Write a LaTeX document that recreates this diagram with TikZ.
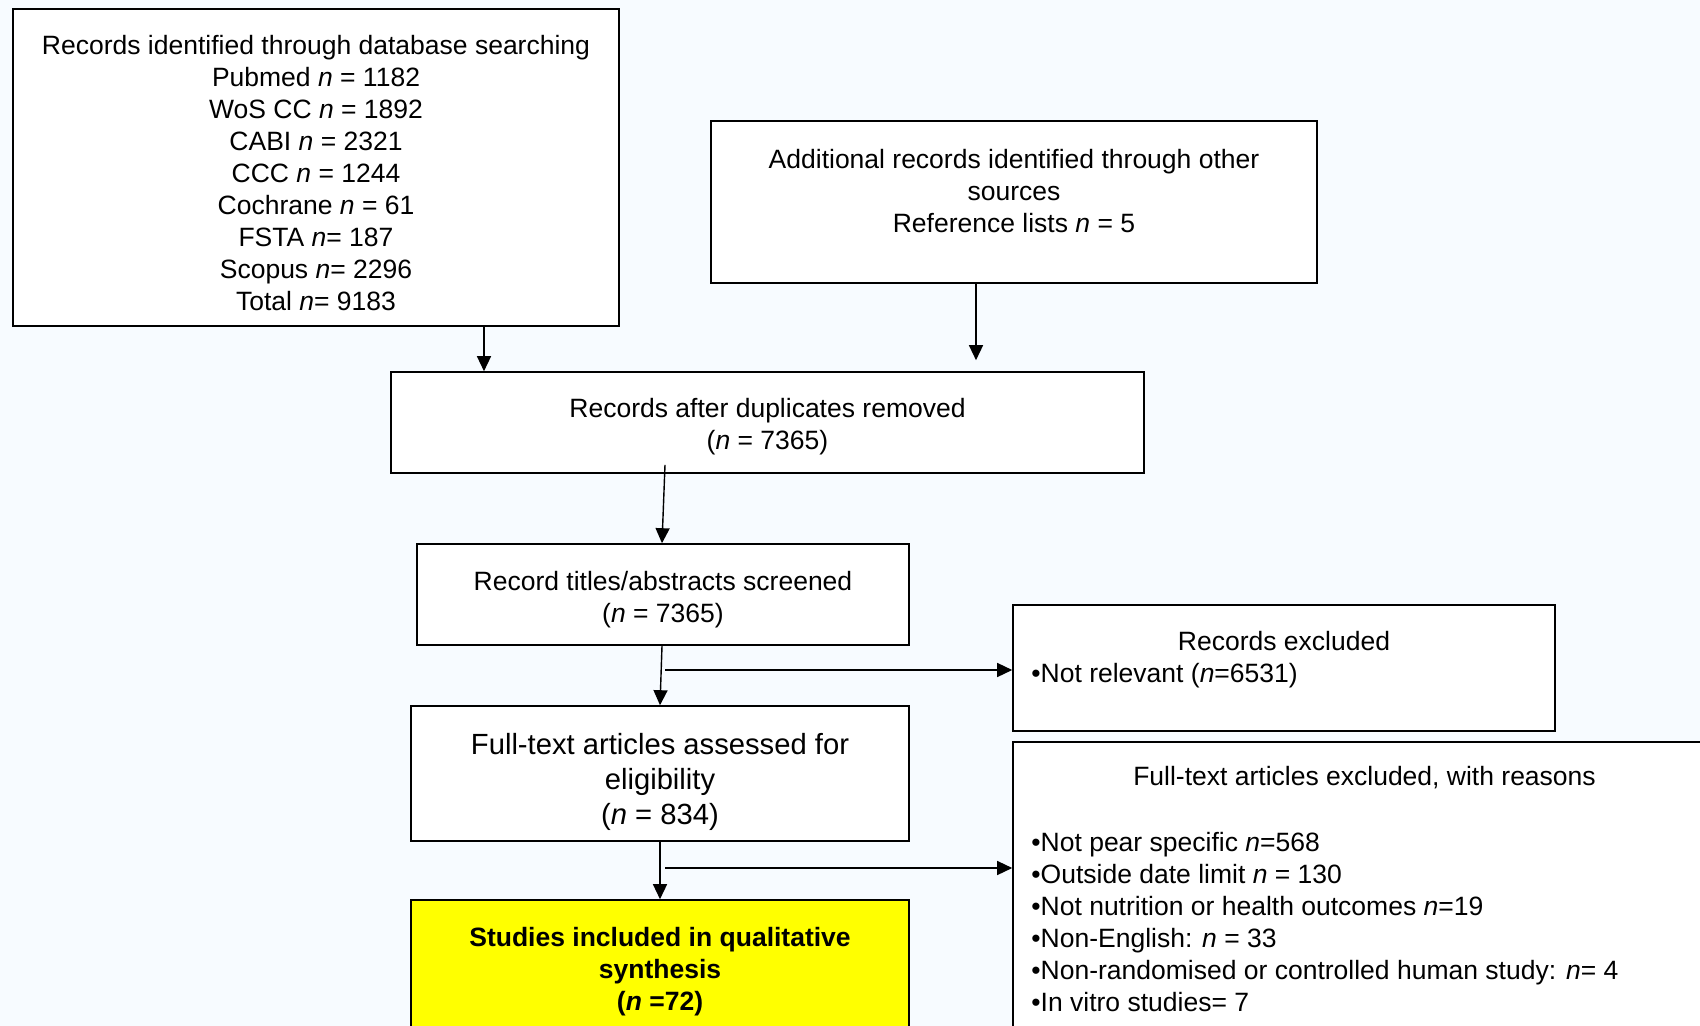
\documentclass[tikz,border=0pt]{standalone}
\usepackage{fontspec}
\setmainfont{Liberation Sans}
\usetikzlibrary{arrows.meta,calc}
\definecolor{bgc}{RGB}{247,251,255}
\definecolor{yel}{RGB}{255,255,0}
\tikzset{
  box/.style={draw=black, line width=0.8pt, fill=white, rectangle, inner sep=0pt},
  txt/.style={inner sep=0pt, align=center, font=\fontsize{13.25pt}{16pt}\selectfont},
  arr/.style={-{Triangle[length=7.5pt,width=7pt]}, line width=0.7pt, black}
}
\begin{document}
\begin{tikzpicture}[x=0.5pt,y=-0.5pt]
\useasboundingbox (0,0) rectangle (1700,1026);
\clip (0,0) rectangle (1700,1026);
\fill[bgc] (0,0) rectangle (1700,1026);

% boxes
\node[box, minimum width=303pt, minimum height=158.5pt] (b1) at (316,167.5) {};
\node[box, minimum width=303pt, minimum height=81pt] (b2) at (1014,202) {};
\node[box, minimum width=376.5pt, minimum height=50.5pt] (b3) at (767.5,422.5) {};
\node[box, minimum width=246pt, minimum height=50.5pt] (b4) at (663,594.5) {};
\node[box, minimum width=271pt, minimum height=63pt] (b5) at (1284,668) {};
\node[box, minimum width=249pt, minimum height=67.5pt] (b6) at (660,773.5) {};
\node[box, minimum width=351.5pt, minimum height=159pt] (b7) at (1364.5,901) {};
\node[box, fill=yel, minimum width=249pt, minimum height=80pt] (b8) at (660,980) {};

% texts
\node[txt] (t1) at (316,173) {Records identified through database searching\\
Pubmed \textit{n} = 1182\\
WoS CC \textit{n} = 1892\\
CABI \textit{n} = 2321\\
CCC \textit{n} = 1244\\
Cochrane \textit{n} = 61\\
FSTA \textit{n}= 187\\
Scopus \textit{n}= 2296\\
Total \textit{n}= 9183};
\node[txt] (t2) at (1014,191.3) {Additional records identified through other\\ sources\\ Reference lists \textit{n} = 5};
\node[txt] (t3) at (767.5,426.5) {Records after duplicates removed\\ (\textit{n} = 7365)};
\node[txt] (t4) at (663,599.5) {Record titles/abstracts screened\\ (\textit{n} = 7365)};
\node[txt] (t5a) at (1284,641) {Records excluded};
\node[txt, anchor=west] (t5b) at (1031,675.5) {•Not relevant (\textit{n}=6531)};
\node[txt, font=\fontsize{14.6pt}{17.5pt}\selectfont] (t6) at (660,781.5) {Full-text articles assessed for\\ eligibility\\ (\textit{n} = 834)};
\node[txt] (t7a) at (1364.5,778) {Full-text articles excluded, with reasons};
\node[txt, align=left, anchor=west] (t7b) at (1031,922.5) {•Not pear specific \textit{n}=568\\
•Outside date limit \textit{n} = 130\\
•Not nutrition or health outcomes \textit{n}=19\\
•Non-English: \textit{n} = 33\\
•Non-randomised or controlled human study: \textit{n}= 4\\
•In vitro studies= 7};
\node[txt, font=\fontsize{13.25pt}{16pt}\selectfont\bfseries] (t8) at (660,972) {Studies included in qualitative\\ synthesis\\ (\textit{n} =72)};

% connectors
\coordinate (s1) at ($(b1.south)+(168,0)$);
\draw[arr] (s1) -- (s1 |- b3.north);
\coordinate (s2) at ($(b2.south)+(-38,0)$);
\draw[arr, shorten >=5.5pt] (s2) -- (s2 |- b3.north);
\coordinate (s3) at ($(b3.south)+(-102.5,-9)$);
\draw[arr] (s3) -- ($(b4.north)+(-1,0)$);
\draw[arr] ($(b4.south)+(-1,0)$) -- (b6.north);
\coordinate (s5) at (665,670);
\draw[arr] (s5) -- (s5 -| b5.west);
\draw[arr] (b6.south) -- (b8.north);
\coordinate (s7) at (665,868);
\draw[arr] (s7) -- (s7 -| b7.west);
\end{tikzpicture}
\end{document}
